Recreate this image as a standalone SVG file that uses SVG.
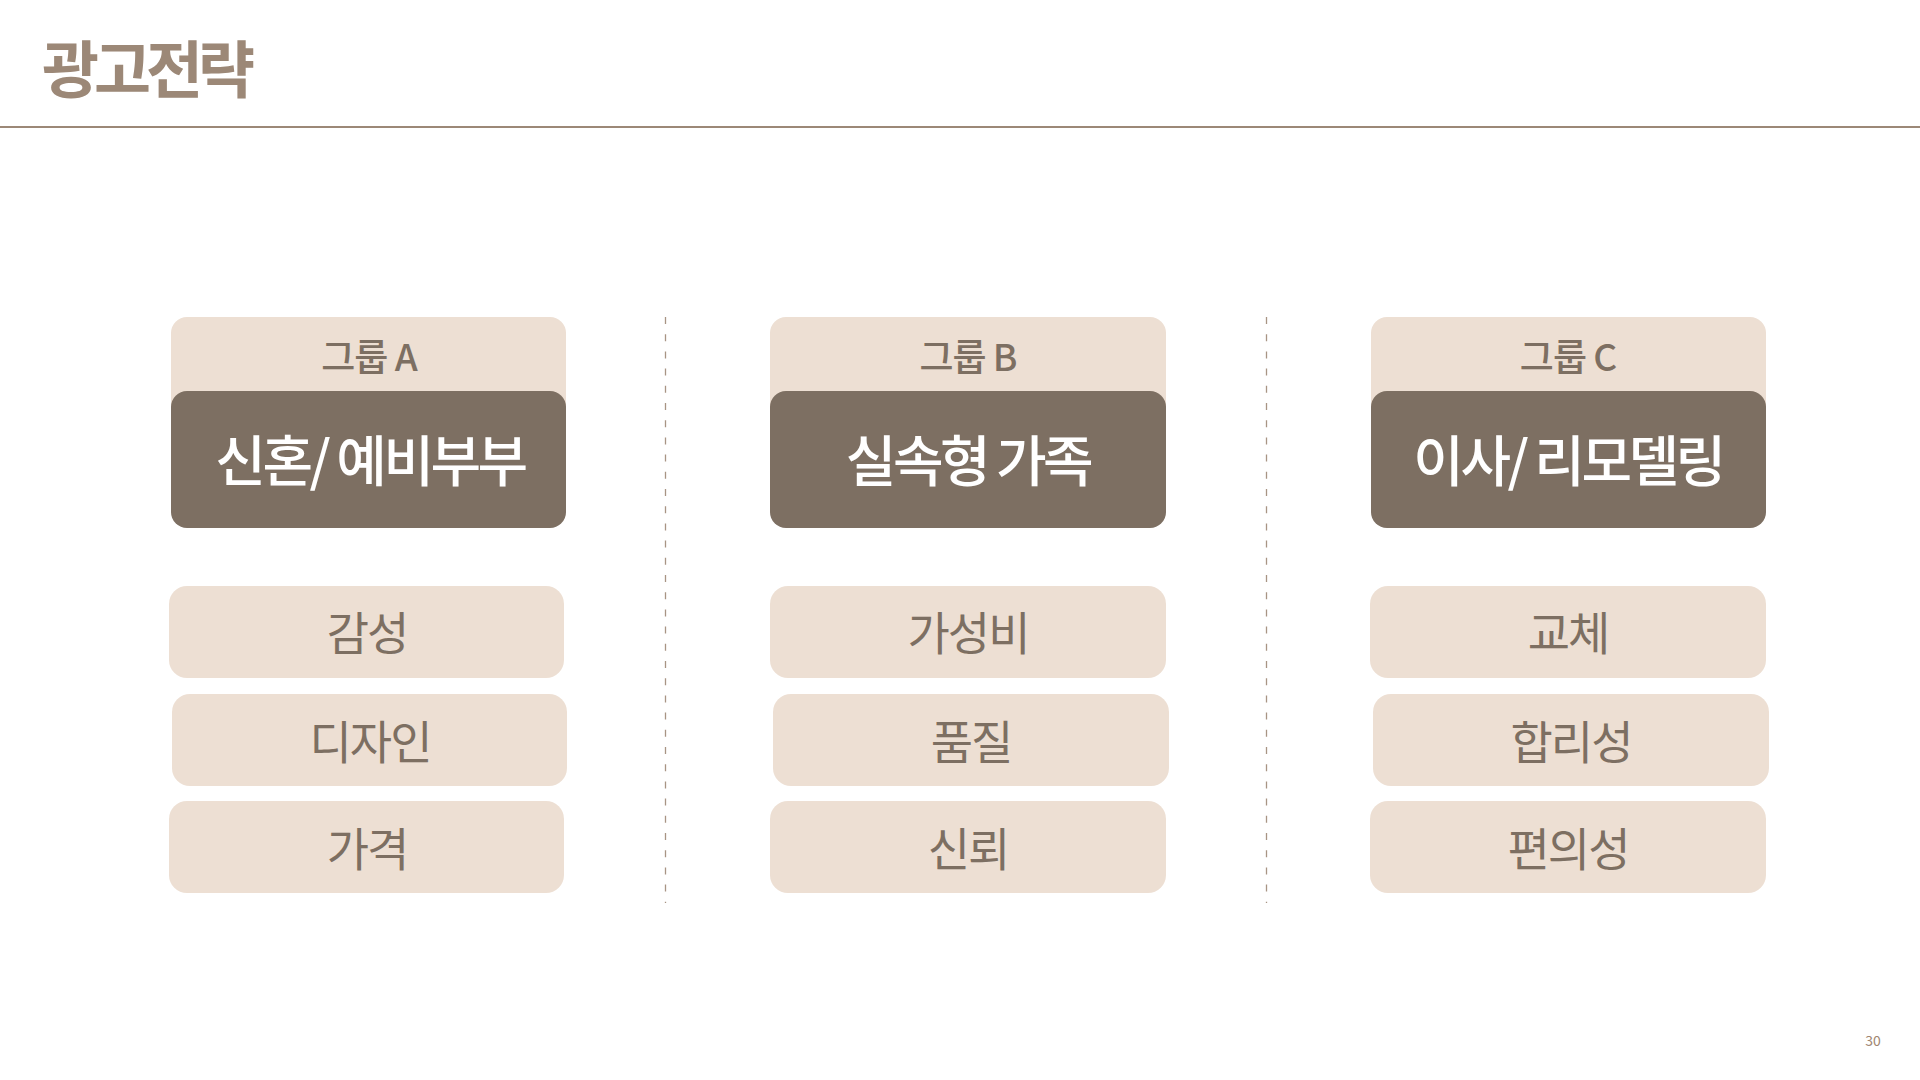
<svg xmlns="http://www.w3.org/2000/svg" width="1920" height="1080" viewBox="0 0 1920 1080">
<style>
  text { font-family: "Noto Sans CJK KR", "Noto Sans", sans-serif; }
  .title { font-size: 62px; font-weight: 700; fill: #9C8877; letter-spacing: -5px; }
  .light { fill: #EDDFD3; }
  .dark { fill: #7D6F62; }
  .grp { font-size: 37px; font-weight: 500; fill: #7D6F62; text-anchor: middle; letter-spacing: -1px; }
  .main { font-size: 55px; font-weight: 500; fill: #FFFFFF; text-anchor: middle; letter-spacing: -3.5px; }
  .item { font-size: 46px; font-weight: 400; fill: #7D6F62; text-anchor: middle; letter-spacing: -2px; }
  .div { stroke: #A89484; stroke-width: 1.3; stroke-dasharray: 7 10.2; fill: none; }
</style>
<rect width="1920" height="1080" fill="#FFFFFF"/>
<g id="title">
  <text class="title" x="42" y="93">광고전략</text>
  <rect x="0" y="126" width="1920" height="2" fill="#9C8877"/>
</g>
<g id="connectors">
  <line class="div" x1="665.5" y1="317" x2="665.5" y2="903"/>
  <line class="div" x1="1266.5" y1="317" x2="1266.5" y2="903"/>
</g>
<g id="groupA">
  <rect class="light" x="171" y="317" width="395" height="110" rx="16"/>
  <text class="grp" x="369" y="371">그룹 A</text>
  <rect class="dark" x="171" y="391" width="395" height="137" rx="16"/>
  <text class="main" x="370" y="481">신혼/ 예비부부</text>
</g>
<g id="groupB">
  <rect class="light" x="770" y="317" width="396" height="110" rx="16"/>
  <text class="grp" x="968" y="371">그룹 B</text>
  <rect class="dark" x="770" y="391" width="396" height="137" rx="16"/>
  <text class="main" x="968" y="481">실속형 가족</text>
</g>
<g id="groupC">
  <rect class="light" x="1371" y="317" width="395" height="110" rx="16"/>
  <text class="grp" x="1568" y="371">그룹 C</text>
  <rect class="dark" x="1371" y="391" width="395" height="137" rx="16"/>
  <text class="main" x="1568" y="481">이사/ 리모델링</text>
</g>
<g id="itemA1"><rect class="light" x="169" y="586" width="395" height="92" rx="18"/><text class="item" x="367" y="650">감성</text></g>
<g id="itemA2"><rect class="light" x="172" y="694" width="395" height="92" rx="18"/><text class="item" x="370" y="759">디자인</text></g>
<g id="itemA3"><rect class="light" x="169" y="801" width="395" height="92" rx="18"/><text class="item" x="367" y="866">가격</text></g>
<g id="itemB1"><rect class="light" x="770" y="586" width="396" height="92" rx="18"/><text class="item" x="968" y="650">가성비</text></g>
<g id="itemB2"><rect class="light" x="773" y="694" width="396" height="92" rx="18"/><text class="item" x="971" y="759">품질</text></g>
<g id="itemB3"><rect class="light" x="770" y="801" width="396" height="92" rx="18"/><text class="item" x="968" y="866">신뢰</text></g>
<g id="itemC1"><rect class="light" x="1370" y="586" width="396" height="92" rx="18"/><text class="item" x="1568" y="650">교체</text></g>
<g id="itemC2"><rect class="light" x="1373" y="694" width="396" height="92" rx="18"/><text class="item" x="1571" y="759">합리성</text></g>
<g id="itemC3"><rect class="light" x="1370" y="801" width="396" height="92" rx="18"/><text class="item" x="1568" y="866">편의성</text></g>
<text x="1873" y="1046" font-size="14" fill="#A08570" text-anchor="middle" font-family="Liberation Sans, sans-serif">30</text>
</svg>
